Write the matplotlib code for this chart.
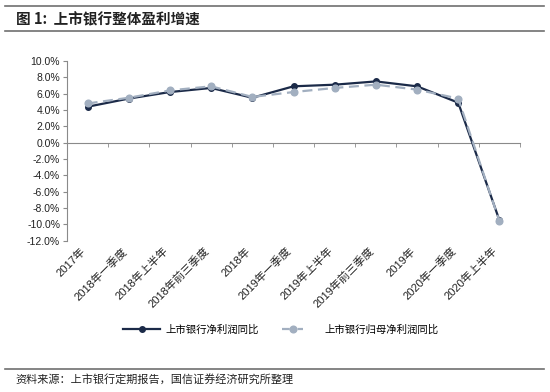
import matplotlib
matplotlib.use("Agg")
import matplotlib.pyplot as plt
from matplotlib.lines import Line2D

plt.rcParams['font.family'] = ['Liberation Sans', 'Noto Sans CJK SC', 'DejaVu Sans']

categories = ["2017年", "2018年一季度", "2018年上半年", "2018年前三季度", "2018年",
              "2019年一季度", "2019年上半年", "2019年前三季度", "2019年",
              "2020年一季度", "2020年上半年"]
net_profit = [4.4, 5.4, 6.2, 6.7, 5.5, 6.9, 7.1, 7.5, 6.9, 4.9, -9.5]
parent_profit = [4.8, 5.5, 6.4, 6.9, 5.6, 6.2, 6.7, 7.1, 6.5, 5.4, -9.6]
yticks = [-12, -10, -8, -6, -4, -2, 0, 2, 4, 6, 8, 10]
series_names = ["上市银行净利润同比", "上市银行归母净利润同比"]
title = "图 1:  上市银行整体盈利增速"
source = "资料来源：上市银行定期报告，国信证券经济研究所整理"

W, H = 550, 392
fig = plt.figure(figsize=(W / 100, H / 100), dpi=100)

ax_l, ax_r, ax_t, ax_b = 67, 520, 61, 240.7
ax = fig.add_axes([ax_l / W, 1 - ax_b / H, (ax_r - ax_l) / W, (ax_b - ax_t) / H])

dark = "#1b2a48"
gray = "#a2afc0"
axis_c = "#8a8a8a"
dash = (0, (4.5, 2.5))

n = len(categories)
x = list(range(n))
ax.plot(x, net_profit, color=dark, lw=1.6, marker='o', ms=4, zorder=3)
ax.plot(x, parent_profit, color=gray, lw=1.6, ls=dash, marker='o', ms=4.8,
        mec=gray, mfc=gray, zorder=4)

ax.set_xlim(-0.5, n - 0.5)
ax.set_ylim(-12, 10)
ax.set_yticks(yticks)
ax.set_yticklabels([f"{v:.1f}%" for v in yticks], fontsize=7.5, color="#222222")

for s in ['top', 'right']:
    ax.spines[s].set_visible(False)
ax.spines['left'].set_color(axis_c)
ax.spines['bottom'].set_color(axis_c)
ax.spines['bottom'].set_position(('data', 0))
ax.tick_params(axis='y', direction='out', length=3, color=axis_c, pad=2)

# category boundary ticks
ax.set_xticks([i + 0.5 for i in range(n)], minor=True)
ax.tick_params(axis='x', which='minor', direction='out', length=3, color=axis_c)
# labels pushed below the plot
px_per_unit = (ax_b - ax_t) / 22.0
pad_px = 12 * px_per_unit + 5
ax.set_xticks(x)
ax.set_xticklabels(categories, rotation=45, ha='right', rotation_mode='default',
                   fontsize=8, color="#222222")
ax.tick_params(axis='x', which='major', length=0, pad=pad_px * 72 / 100)

# legend (two entries placed separately)
y_leg = 1 - 330 / H
h1 = Line2D([0], [0], color=dark, lw=1.6, marker='o', ms=4)
h2 = Line2D([0], [0], color=gray, lw=1.6, ls=(0, (3.5, 3.5)), marker='o', ms=4.8,
            mec=gray, mfc=gray)
fig.legend([h1], [series_names[0]], loc='center left', bbox_to_anchor=(114 / W, y_leg),
           frameon=False, fontsize=7.5, handlelength=3.5, handletextpad=0.5)
fig.legend([h2], [series_names[1]], loc='center left', bbox_to_anchor=(273 / W, y_leg),
           frameon=False, fontsize=7.5, handlelength=2.0, handletextpad=2.0)

# title and frame lines
for yy in (6, 31, 369):
    fig.add_artist(Line2D([5 / W, 544 / W], [1 - yy / H, 1 - yy / H], color="#707070", lw=1.2))
fig.text(16 / W, 1 - 19 / H, title, fontsize=10.5, fontweight='bold', va='center', ha='left',
         family=['Noto Sans CJK SC', 'DejaVu Sans'], color="#222222")
fig.text(15 / W, 1 - 379 / H, source, fontsize=8, va='center', ha='left',
         family=['Noto Sans CJK SC', 'DejaVu Sans'], color="#222222")

fig.savefig("out.png", dpi=100)
